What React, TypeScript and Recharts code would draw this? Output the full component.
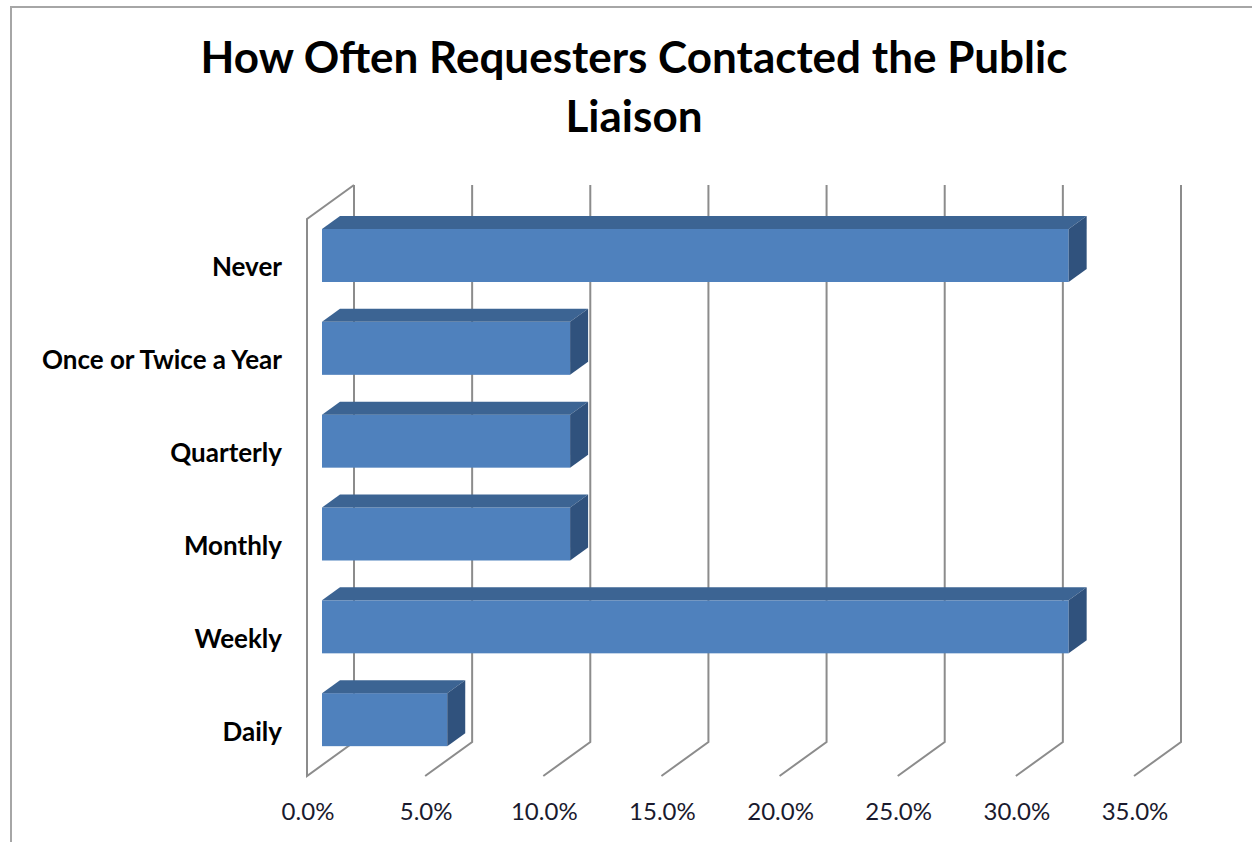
import { BarChart, Bar, XAxis, YAxis, CartesianGrid } from 'recharts';

const CATEGORIES = [
  'Never',
  'Once or Twice a Year',
  'Quarterly',
  'Monthly',
  'Weekly',
  'Daily',
];

const SHARES = [0.316, 0.105, 0.105, 0.105, 0.316, 0.053];

const X_TICKS = [0, 0.05, 0.1, 0.15, 0.2, 0.25, 0.3, 0.35];

const TITLE_LINES = ['How Often Requesters Contacted the Public', 'Liaison'];

const FONT = 'Lato, "Open Sans", sans-serif';

// 3d depth of the floor / wall relative to the bar plane
const BACK_DX = 32;
const BACK_DY = 24;
const FRONT_DX = 15;
const FRONT_DY = 10;
// depth of a bar itself
const BAR_DX = 18;
const BAR_DY = 13;

const GRID = '#8c8c8c';

const data = CATEGORIES.map((name, i) => ({ name, value: SHARES[i] }));

function GridLine(props: any) {
  const { x1, y1, y2, index } = props;
  const bx = x1 + BACK_DX;
  const fx = x1 - FRONT_DX;
  const top = y1 - BACK_DY;
  const bottom = y2 - BACK_DY;
  let pts = `${bx},${top} ${bx},${bottom} ${fx},${y2 + FRONT_DY}`;
  if (index === 0) {
    pts = `${bx},${top} ${fx},${y1 + FRONT_DY} ${fx},${y2 + FRONT_DY} ${bx},${bottom} ${bx},${top}`;
  }
  return (
    <polyline
      key={`grid-${index}`}
      points={pts}
      fill="none"
      stroke={GRID}
      strokeWidth={2}
      strokeLinejoin="miter"
    />
  );
}

function Bar3d(props: any) {
  const { x, y, width, height } = props;
  const r = x + width;
  return (
    <g>
      <rect x={x} y={y} width={width} height={height} fill="#4f81bd" />
      <polygon
        points={`${x},${y} ${x + BAR_DX},${y - BAR_DY} ${r + BAR_DX},${y - BAR_DY} ${r},${y}`}
        fill="#3c6493"
      />
      <polygon
        points={`${r},${y} ${r + BAR_DX},${y - BAR_DY} ${r + BAR_DX},${y + height - BAR_DY} ${r},${y + height}`}
        fill="#30527d"
      />
    </g>
  );
}

function CategoryTick(props: any) {
  const { y, payload } = props;
  return (
    <text
      x={282}
      y={y + 11}
      textAnchor="end"
      dominantBaseline="central"
      fontFamily={FONT}
      fontWeight={700}
      fontSize={26}
      fill="#000"
    >
      {payload.value}
    </text>
  );
}

function PercentTick(props: any) {
  const { x, payload } = props;
  return (
    <text
      x={x - 14}
      y={810}
      textAnchor="middle"
      dominantBaseline="central"
      fontFamily={FONT}
      fontSize={24}
      fill="#1a1a2e"
    >
      {(payload.value * 100).toFixed(1)}%
    </text>
  );
}

export default function App() {
  return (
    <div
      style={{
        position: 'absolute',
        left: 0,
        top: 0,
        width: 1252,
        height: 842,
        background: '#fff',
        overflow: 'hidden',
      }}
    >
      <div
        style={{
          position: 'absolute',
          left: 10,
          top: 6,
          width: 1260,
          height: 860,
          borderTop: '2px solid #a6a6a6',
          borderLeft: '2px solid #a6a6a6',
        }}
      />

      {TITLE_LINES.map((line, i) => (
        <div
          key={line}
          style={{
            position: 'absolute',
            left: 0,
            width: 1268,
            top: 26 + i * 59,
            lineHeight: '60px',
            textAlign: 'center',
            fontFamily: FONT,
            fontWeight: 700,
            fontSize: 44,
            color: '#000',
          }}
        >
          {line}
        </div>
      ))}

      <div style={{ position: 'absolute', left: 0, top: 0 }}>
        <BarChart
          width={1252}
          height={842}
          data={data}
          layout="vertical"
          barSize={53}
          margin={{ top: 209, right: 103, bottom: 0, left: 0 }}
        >
          <CartesianGrid horizontal={false} vertical={GridLine} />
          <XAxis
            type="number"
            domain={[0, 0.35]}
            ticks={X_TICKS}
            axisLine={false}
            tickLine={false}
            height={76}
            tick={PercentTick}
            interval={0}
          />
          <YAxis
            type="category"
            dataKey="name"
            width={322}
            axisLine={false}
            tickLine={false}
            tick={CategoryTick}
            interval={0}
          />
          <Bar
            dataKey="value"
            shape={Bar3d}
            isAnimationActive={false}
          />
        </BarChart>
      </div>
    </div>
  );
}
